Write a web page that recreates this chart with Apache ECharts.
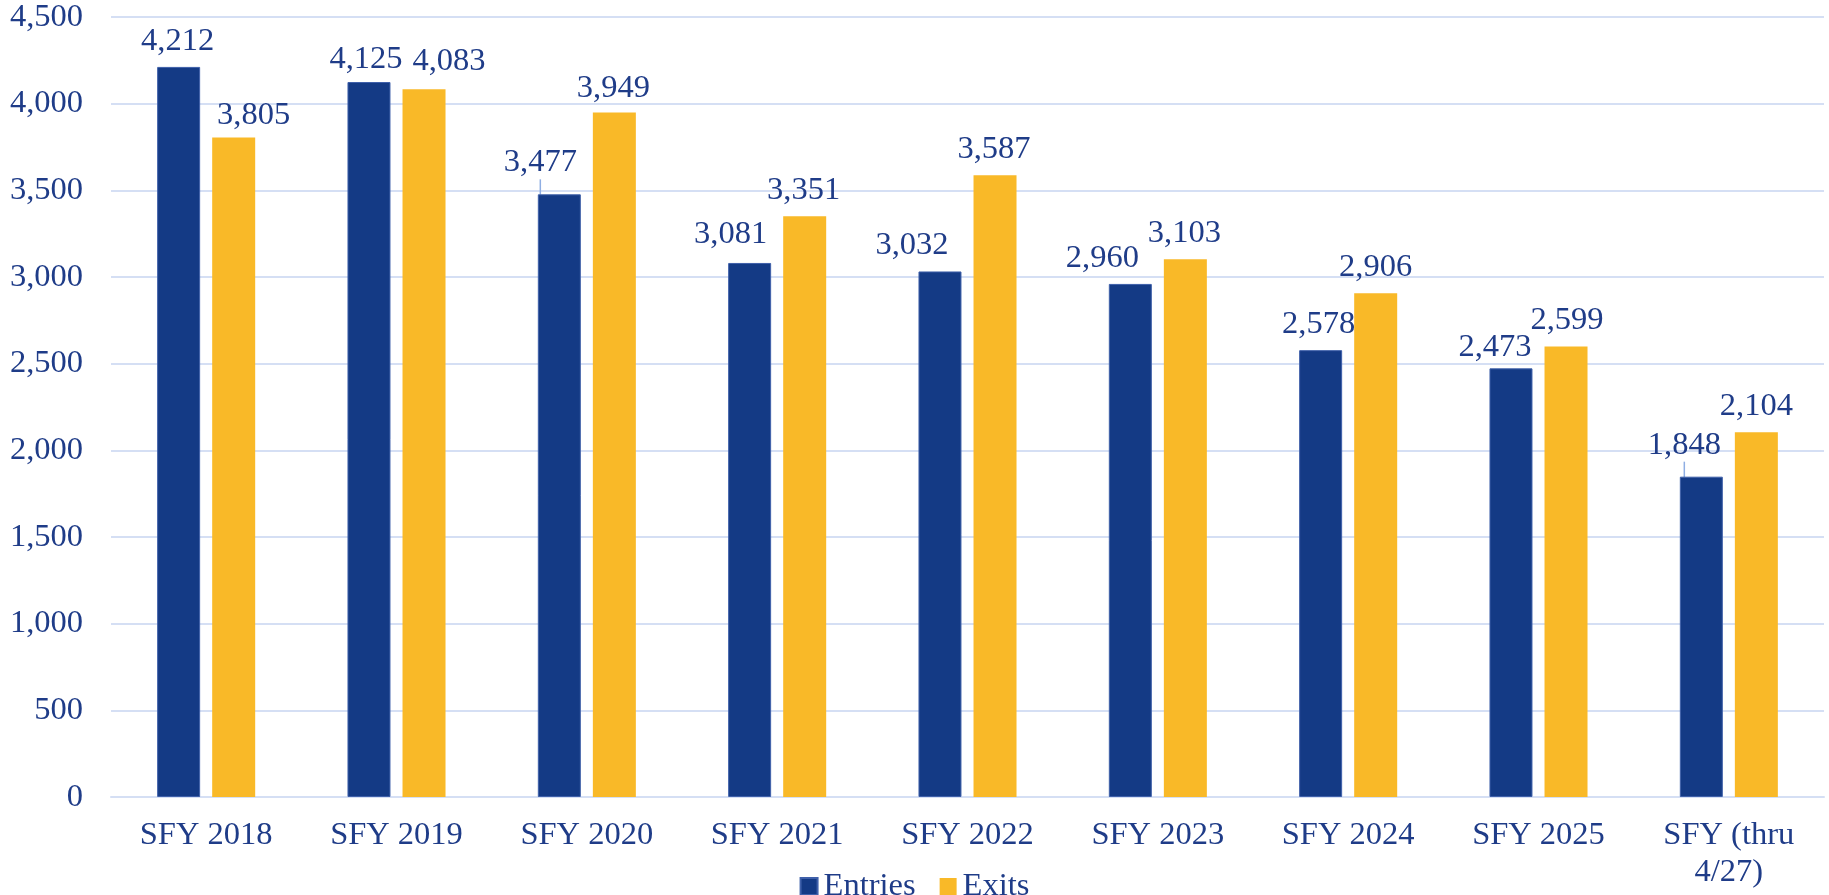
<!DOCTYPE html>
<html>
<head>
<meta charset="utf-8">
<script src="https://cdn.jsdelivr.net/npm/echarts@6/dist/echarts.min.js"></script>
<style>
html,body{margin:0;padding:0;background:#fff;}
#chart{width:1829px;height:895px;}
</style>
</head>
<body>
<div id="chart"></div>
<script>
// ---- data ----
const categories = ['SFY 2018','SFY 2019','SFY 2020','SFY 2021','SFY 2022','SFY 2023','SFY 2024','SFY 2025','SFY (thru\n4/27)'];
const entries = [4212, 4125, 3477, 3081, 3032, 2960, 2578, 2473, 1848];
const exits   = [3805, 4083, 3949, 3351, 3587, 3103, 2906, 2599, 2104];
const seriesNames = ['Entries', 'Exits'];
const yTicks = { min: 0, max: 4500, interval: 500 };

// ---- style (label nudges, px) ----
const entriesLabelDx = [-1, -3, -19, -19, -28, -28, -2, -16, -17];
const entriesLabelDy = [0, 3, -6, -3, 0, 0, 0, 5, -6];
const entriesLeader  = [false, false, true, false, false, false, false, false, true];
const exitsLabelDx   = [20, 25, -1, -1, -1, -1, 0, 1, 0];
const exitsLabelDy   = [4, -2, 1, 0, 0, 0, 0, -1, 0];

const TXT = '#1F3C88';
const GRID = '#D5DFF4';
const FONT = '"Liberation Serif", "Times New Roman", serif';
const FS = 32.5;

const fmt = v => v.toLocaleString('en-US');

const chart = echarts.init(document.getElementById('chart'));
chart.setOption({
  animation: false,
  textStyle: { fontFamily: FONT, color: TXT },
  grid: { left: 111, right: 5, top: 17, bottom: 98, containLabel: false },
  legend: {
    data: seriesNames,
    left: 'center',
    top: 865,
    itemWidth: 17, itemHeight: 17, itemGap: 24,
    icon: 'rect',
    textStyle: { fontFamily: FONT, fontSize: FS, color: TXT, padding: [0, 0, 0, 1] }
  },
  xAxis: {
    type: 'category',
    data: categories,
    axisLine: { show: true, lineStyle: { color: GRID, width: 2 } },
    axisTick: { show: false },
    axisLabel: { fontFamily: FONT, fontSize: FS, color: TXT, margin: 20, lineHeight: 37, interval: 0 }
  },
  yAxis: {
    type: 'value',
    min: yTicks.min, max: yTicks.max, interval: yTicks.interval,
    axisLine: { show: false },
    axisTick: { show: false },
    splitLine: { lineStyle: { color: GRID, width: 2 } },
    axisLabel: { fontFamily: FONT, fontSize: FS, color: TXT, margin: 28, formatter: v => fmt(v) }
  },
  series: [
    {
      name: seriesNames[0],
      type: 'bar',
      barWidth: 43,
      barGap: '28%',
      itemStyle: { color: '#143A85', borderColor: '#3F60AA', borderWidth: 1 },
      data: entries.map((v, i) => entriesLeader[i]
        ? { value: v, labelLine: { show: true, lineStyle: { color: '#8FAEE3', width: 1.5 } } }
        : v),
      label: {
        show: true, position: 'top', distance: 9,
        fontFamily: FONT, fontSize: FS, color: TXT,
        formatter: p => fmt(p.value)
      },
      labelLine: { show: false },
      labelLayout: p => ({ dx: entriesLabelDx[p.dataIndex], dy: entriesLabelDy[p.dataIndex] })
    },
    {
      name: seriesNames[1],
      type: 'bar',
      barWidth: 43,
      barGap: '28%',
      itemStyle: { color: '#F9B928' },
      data: exits,
      label: {
        show: true, position: 'top', distance: 9,
        fontFamily: FONT, fontSize: FS, color: TXT,
        formatter: p => fmt(p.value)
      },
      labelLayout: p => ({ dx: exitsLabelDx[p.dataIndex], dy: exitsLabelDy[p.dataIndex] })
    }
  ]
});
</script>
</body>
</html>
